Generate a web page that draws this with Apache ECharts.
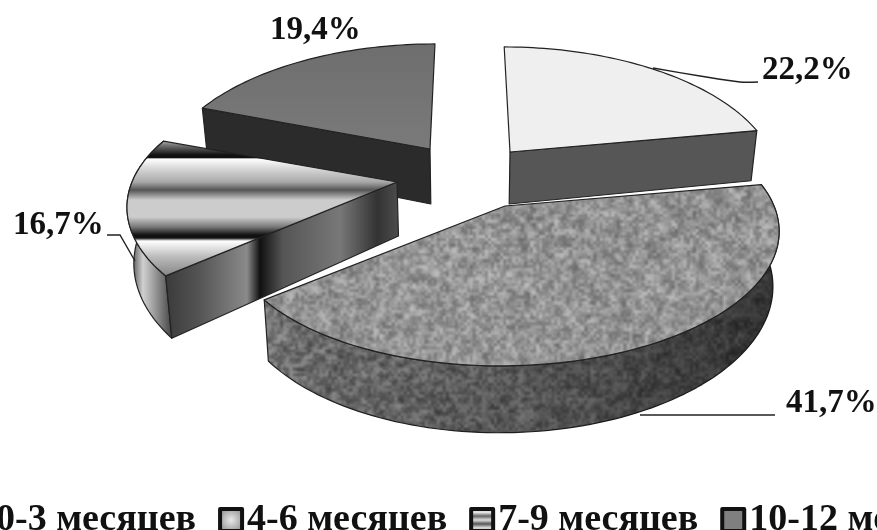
<!DOCTYPE html>
<html>
<head>
<meta charset="utf-8">
<style>html,body{margin:0;padding:0;background:#fff}#chart{width:877px;height:530px}</style>
<script src="https://cdn.jsdelivr.net/npm/echarts@6/dist/echarts.min.js"></script>
</head>
<body>
<div id="chart"></div>
<script>
// Age groups and their shares, percent
const categories = ['0-3 месяцев', '4-6 месяцев', '7-9 месяцев', '10-12 месяцев'];
const shares = [22.2, 41.7, 16.7, 19.4];

// Painting order of the slices, back to front
const paintOrder = [3, 0, 2, 1];

// Perspective of the disc: vertical scale and foreshortening
const TILT_Y = 126.8, PERSPECTIVE = 0.207, VANISH_X = 470, CONVERGE = 0.02;
const PIE_CENTER = [470, 180];

// Exploded placement of each slice, with its radius, skew and wall height
const explode = [[40, -28], [35, 26], [-73, 2], [-40, -31]];
const radius = [261, 269, 265, 262];
const skew = [-7, 4, -4, 6];
const wall = [52, 53, 54, 55];

const labelFont = 'bold 33px "Liberation Serif"';
const labelAt = [[762, 70], [786, 403], [13, 225], [270, 30]];
const leaders = [
  [[653, 68], [700, 76], [740, 82], [758, 82]],
  [[640, 415], [775, 415]],
  [[107, 235], [120, 235], [135, 261]],
  null
];

// Deterministic mottled texture for the stone-like surfaces
function mottleTile(base, spread) {
  const SIZE = 1024;
  const hash = (x, y, s) => {
    let h = Math.imul(x + 31 * s, 374761393) ^ Math.imul(y + 17 * s, 668265263);
    h = Math.imul(h ^ (h >>> 13), 1274126177);
    return ((h ^ (h >>> 16)) >>> 0) / 4294967295;
  };
  const layer = (n, s) => {
    const c = document.createElement('canvas');
    c.width = c.height = n;
    const g = c.getContext('2d');
    const img = g.createImageData(n, n);
    for (let y = 0; y < n; y++) for (let x = 0; x < n; x++) {
      const v = Math.round(base + (hash(x, y, s) - 0.5) * spread * 2);
      const i = (y * n + x) * 4;
      img.data[i] = img.data[i + 1] = img.data[i + 2] = v;
      img.data[i + 3] = 255;
    }
    g.putImageData(img, 0, 0);
    return c;
  };
  const tile = document.createElement('canvas');
  tile.width = tile.height = SIZE;
  const g = tile.getContext('2d');
  g.imageSmoothingEnabled = true;
  g.drawImage(layer(170, 1), 0, 0, SIZE, SIZE);
  g.globalAlpha = 0.55;
  g.drawImage(layer(340, 2), 0, 0, SIZE, SIZE);
  return tile;
}

const stoneTop = { image: mottleTile(148, 46), repeat: 'repeat' };
const stoneWall = { image: mottleTile(112, 46), repeat: 'repeat' };

function hGradient(x1, x2, stops) {
  return {
    type: 'linear', global: true, x: x1, y: 0, x2: x2, y2: 0,
    colorStops: stops.map(s => ({ offset: (s[0] - x1) / (x2 - x1), color: s[1] }))
  };
}
function vGradient(y1, y2, stops) {
  return {
    type: 'linear', global: true, x: 0, y: y1, x2: 0, y2: y2,
    colorStops: stops.map(s => ({ offset: (s[0] - y1) / (y2 - y1), color: s[1] }))
  };
}

const metalTop = vGradient(139, 275, [
  [139, '#cfcfcf'], [145, '#777777'], [155, '#111111'], [157.5, '#111111'], [159, '#ffffff'],
  [167, '#dddddd'], [182, '#a8a8a8'], [190, '#555555'], [200, '#cccccc'], [217, '#cccccc'],
  [227, '#777777'], [235, '#111111'], [238, '#111111'], [241, '#ffffff'], [257, '#bbbbbb'], [275, '#888888']
]);
const metalFace = hGradient(165, 405, [
  [165, '#3a3a3a'], [200, '#555555'], [247, '#8a8a8a'], [260, '#111111'], [266, '#222222'],
  [283, '#555555'], [340, '#787878'], [377, '#333333'], [405, '#555555']
]);
const metalRim = hGradient(127, 172, [
  [127, '#333333'], [135, '#777777'], [143, '#d0d0d0'], [155, '#999999'], [172, '#444444']
]);

const faceFill = [
  { top: '#efefef', face: '#565656' },
  { top: stoneTop, rim: stoneWall,
    shade: hGradient(264, 779, [[264, 'rgba(0,0,0,0)'], [500, 'rgba(0,0,0,0.2)'], [779, 'rgba(0,0,0,0.55)']]) },
  { top: metalTop, face: metalFace, rim: metalRim },
  { top: vGradient(46, 190, [[46, '#6e6e6e'], [190, '#7f7f7f']]), face: '#2b2b2b' }
];

// Angular span of a slice, clockwise from twelve o'clock
function sliceSpan(i) {
  const total = shares.reduce((a, b) => a + b, 0);
  const before = shares.slice(0, i).reduce((a, b) => a + b, 0);
  return [before / total * 360, (before + shares[i]) / total * 360];
}

function projector(i) {
  const ax = PIE_CENTER[0] + explode[i][0];
  const ay = PIE_CENTER[1] + explode[i][1];
  const top = deg => {
    const t = deg * Math.PI / 180, c = Math.cos(t), w = 1 + PERSPECTIVE * c;
    return [ax + (radius[i] * Math.sin(t) + skew[i] * c) / w, ay - TILT_Y * c / w, w];
  };
  const lower = (p, w) => [p[0] + (VANISH_X - p[0]) * CONVERGE, p[1] + wall[i] / w];
  return { apex: [ax, ay], top, lower };
}

function arcPoints(P, from, to) {
  const n = Math.max(8, Math.round((to - from) / 1.5));
  const pts = [];
  for (let k = 0; k <= n; k++) pts.push(P.top(from + (to - from) * k / n));
  return pts;
}

const EDGE = { stroke: '#222222', lineWidth: 1.2, lineJoin: 'round' };

function renderSlice(i, api) {
  const P = projector(i);
  const [a0, a1] = sliceSpan(i);
  const fills = faceFill[i];
  const kids = [];
  const poly = (points, fill, stroke) => kids.push({
    type: 'polygon', shape: { points },
    style: Object.assign({ fill }, stroke === false ? { stroke: 'none' } : EDGE)
  });

  // outer wall
  if (fills.rim) {
    const arc = arcPoints(P, a0, a1);
    const upper = arc.map(p => [p[0], p[1]]);
    const below = arc.map(p => P.lower(p, p[2])).reverse();
    poly(upper.concat(below), fills.rim);
    if (fills.shade) poly(upper.concat(below), fills.shade, false);
  }
  // cut face turned towards the viewer
  if (fills.face) {
    const c = P.top(i === 0 ? a1 : a0);
    poly([P.apex, [c[0], c[1]], P.lower(c, c[2]), P.lower(P.apex, 1)], fills.face);
  }
  // top surface
  poly([P.apex].concat(arcPoints(P, a0, a1).map(p => [p[0], p[1]])), fills.top);

  if (leaders[i]) {
    kids.push({
      type: 'polyline', shape: { points: leaders[i], smooth: i === 0 ? 0.3 : 0 },
      style: { stroke: '#222222', lineWidth: 1.4, fill: 'none' }
    });
  }
  kids.push({
    type: 'text',
    style: {
      text: String(api.value(0)).replace('.', ',') + '%',
      x: labelAt[i][0], y: labelAt[i][1], font: labelFont,
      fill: '#111111', textAlign: 'left', textVerticalAlign: 'middle'
    }
  });
  return { type: 'group', children: kids };
}

const legendFills = [
  '#efefef',
  { type: 'radial', x: 0.5, y: 0.5, r: 0.7, colorStops: [{ offset: 0, color: '#e8e8e8' }, { offset: 1, color: '#777777' }] },
  { type: 'linear', x: 0, y: 0, x2: 0, y2: 1, colorStops: [
    { offset: 0, color: '#888888' }, { offset: 0.2, color: '#eeeeee' }, { offset: 0.35, color: '#666666' },
    { offset: 0.5, color: '#dddddd' }, { offset: 0.65, color: '#555555' }, { offset: 0.8, color: '#dddddd' }, { offset: 1, color: '#777777' }] },
  '#7f7f7f'
];

const chart = echarts.init(document.getElementById('chart'), null, { renderer: 'canvas' });
chart.setOption({
  animation: false,
  backgroundColor: '#ffffff',
  legend: {
    left: -33, top: 501, width: 1400, orient: 'horizontal',
    itemWidth: 22, itemHeight: 22, itemGap: 22, selectedMode: false, padding: 0,
    textStyle: { fontFamily: 'Liberation Serif', fontWeight: 'bold', fontSize: 38, color: '#111111' },
    data: categories.map((name, i) => ({
      name, icon: 'rect',
      itemStyle: { color: legendFills[i], borderColor: '#111111', borderWidth: 4, borderJoin: 'round' }
    }))
  },
  series: categories.map((name, i) => ({
    type: 'custom', name, coordinateSystem: 'none',
    z: 2 + paintOrder.indexOf(i) / 10,
    silent: true,
    data: [[shares[i]]],
    renderItem: (params, api) => renderSlice(i, api)
  }))
});
</script>
</body>
</html>
